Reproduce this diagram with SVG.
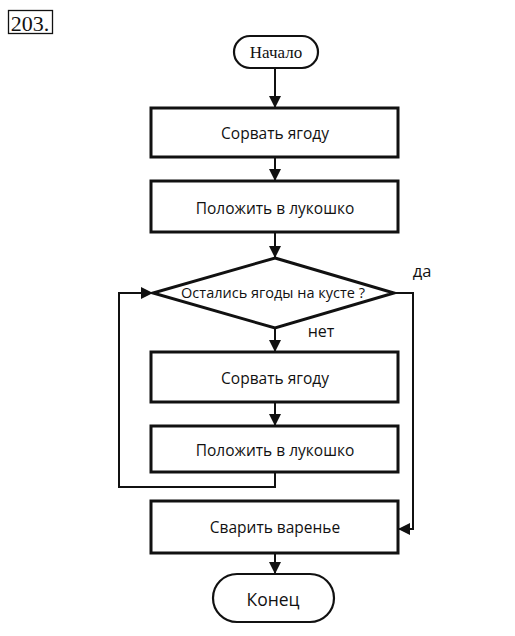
<svg xmlns="http://www.w3.org/2000/svg" width="515" height="636" viewBox="0 0 515 636">
<style>
.box{fill:#fff;stroke:#111;stroke-width:3}
.term{fill:#fff;stroke:#111;stroke-width:2.2}
.ln{fill:none;stroke:#111;stroke-width:2}
.t{font-family:"Open Sans","Liberation Sans",sans-serif;font-size:15.5px;fill:#111;text-anchor:middle;dominant-baseline:central}
</style>
<defs>
<marker id="ahb" viewBox="0 0 10 10" refX="10" refY="5" markerWidth="12" markerHeight="12" orient="auto" markerUnits="userSpaceOnUse">
<path d="M0,0 L10,5 L0,10 z" fill="#111"/>
</marker>
</defs>
<g id="label203">
<rect x="8.5" y="10.5" width="44" height="23" fill="none" stroke="#111" stroke-width="1.3"/>
<text x="30" y="23" font-family="Liberation Serif,serif" font-size="22" text-anchor="middle" dominant-baseline="central" fill="#111">203.</text>
</g>
<g id="connectors">
<line class="ln" x1="275" y1="68" x2="275" y2="108" marker-end="url(#ahb)"/>
<line class="ln" x1="275" y1="157" x2="275" y2="181" marker-end="url(#ahb)"/>
<line class="ln" x1="275" y1="232" x2="275" y2="258" marker-end="url(#ahb)"/>
<line class="ln" x1="275" y1="328" x2="275" y2="352" marker-end="url(#ahb)"/>
<line class="ln" x1="275" y1="402" x2="275" y2="426" marker-end="url(#ahb)"/>
<polyline class="ln" points="275,472 275,487 119,487 119,293 153,293" marker-end="url(#ahb)"/>
<polyline class="ln" points="394,293 413,293 413,529 398,529" marker-end="url(#ahb)"/>
<line class="ln" x1="275" y1="553" x2="275" y2="574" marker-end="url(#ahb)"/>
</g>
<g id="start">
<rect class="term" x="234" y="36" width="84" height="32" rx="16"/>
<text class="t" x="276" y="52" style="font-family:'Liberation Serif',serif;font-size:17px">Начало</text>
</g>
<g id="box1">
<rect class="box" x="151" y="108" width="247" height="49"/>
<text class="t" x="275" y="133">Сорвать ягоду</text>
</g>
<g id="box2">
<rect class="box" x="151" y="181" width="247" height="51"/>
<text class="t" x="275" y="208">Положить в лукошко</text>
</g>
<g id="decision">
<polygon points="275,258 394,293 275,328 153,293" fill="#fff" stroke="#111" stroke-width="3"/>
<text class="t" x="273" y="292" style="font-size:14.5px">Остались ягоды на кусте ?</text>
</g>
<text class="t" x="422" y="270" style="font-size:16.5px">да</text>
<text class="t" x="321" y="331" style="font-size:16px">нет</text>
<g id="box3">
<rect class="box" x="151" y="352" width="247" height="50"/>
<text class="t" x="275" y="378">Сорвать ягоду</text>
</g>
<g id="box4">
<rect class="box" x="151" y="426" width="247" height="46"/>
<text class="t" x="275" y="450">Положить в лукошко</text>
</g>
<g id="box5">
<rect class="box" x="151" y="501" width="247" height="52"/>
<text class="t" x="275" y="527">Сварить варенье</text>
</g>
<g id="end">
<rect class="term" x="213" y="574" width="121" height="48" rx="24"/>
<text class="t" x="273" y="599" style="font-size:17.5px">Конец</text>
</g>
</svg>
